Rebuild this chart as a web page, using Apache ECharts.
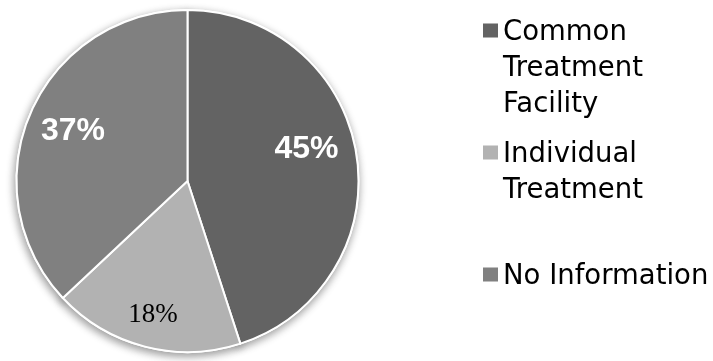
<!DOCTYPE html>
<html>
<head>
<meta charset="utf-8">
<script src="https://cdn.jsdelivr.net/npm/echarts@6/dist/echarts.min.js"></script>
<style>
  html, body { margin: 0; padding: 0; background: #fff; }
  #chart { width: 713px; height: 361px; }
</style>
</head>
<body>
<div id="chart"></div>
<script>
// ---- data ----
const categories = ['Common Treatment Facility', 'Individual Treatment', 'No Information'];
const legendLabels = ['Common\nTreatment\nFacility', 'Individual\nTreatment\n', 'No Information\n\n'];
const values = [45, 18, 37];
const sliceColors = ['#636363', '#b2b2b2', '#808080'];

// ---- layout ----
const PIE_CX = 187.5, PIE_CY = 181, PIE_R = 171;
const labelRadiusRatio = [0.72, 0.81, 0.73];
const labelAngleShift = [-6, 0, 0];
const labelStyles = [
  { color: '#fff', fontFamily: 'Liberation Sans, Arial, sans-serif', fontWeight: 'bold', fontSize: 32 },
  { color: '#000', fontFamily: 'Liberation Serif, Times New Roman, serif', fontWeight: 'normal', fontSize: 27 },
  { color: '#fff', fontFamily: 'Liberation Sans, Arial, sans-serif', fontWeight: 'bold', fontSize: 32 }
];

const total = values.reduce((a, b) => a + b, 0);

const chart = echarts.init(document.getElementById('chart'), null, { renderer: 'canvas' });

const pieData = categories.map((name, i) => ({
  name: name,
  value: values[i],
  itemStyle: { color: sliceColors[i] },
  label: labelStyles[i]
}));

const shadowData = categories.map((name, i) => ({
  name: name,
  value: values[i],
  itemStyle: { color: sliceColors[i] }
}));

chart.setOption({
  animation: false,
  backgroundColor: '#fff',
  legend: {
    orient: 'vertical',
    left: 478,
    top: 9.5,
    height: 420,
    itemWidth: 15,
    itemHeight: 108,
    itemGap: 14,
    icon: 'path://M0,0L0,0M0,9L15,9L15,23L0,23ZM0,108L0,108',
    itemStyle: { borderWidth: 0, shadowBlur: 0, shadowColor: 'rgba(0,0,0,0)' },
    data: categories,
    formatter: function (name) {
      return legendLabels[categories.indexOf(name)];
    },
    textStyle: {
      fontFamily: 'DejaVu Sans',
      fontSize: 27.5,
      lineHeight: 36,
      color: '#000'
    },
    selectedMode: false
  },
  series: [
    {
      type: 'pie',
      z: 1,
      silent: true,
      center: [PIE_CX, PIE_CY],
      radius: PIE_R,
      startAngle: 90,
      clockwise: true,
      label: { show: false },
      labelLine: { show: false },
      itemStyle: {
        borderColor: '#fff',
        borderWidth: 2,
        shadowBlur: 8,
        shadowOffsetX: -1,
        shadowOffsetY: 3,
        shadowColor: 'rgba(0,0,0,0.4)'
      },
      emphasis: { disabled: true },
      data: shadowData
    },
    {
      type: 'pie',
      z: 2,
      silent: true,
      center: [PIE_CX, PIE_CY],
      radius: PIE_R,
      startAngle: 90,
      clockwise: true,
      itemStyle: { borderColor: '#fff', borderWidth: 2 },
      label: {
        show: true,
        position: 'inside',
        formatter: '{c}%'
      },
      labelLine: { show: false },
      labelLayout: function (params) {
        const i = params.dataIndex;
        let start = 0;
        for (let k = 0; k < i; k++) start += values[k];
        const midDeg = (start + values[i] / 2) / total * 360 + labelAngleShift[i];
        const a = midDeg * Math.PI / 180;
        const r = labelRadiusRatio[i] * PIE_R;
        return {
          x: PIE_CX + r * Math.sin(a),
          y: PIE_CY - r * Math.cos(a),
          align: 'center',
          verticalAlign: 'middle'
        };
      },
      emphasis: { disabled: true },
      data: pieData
    }
  ]
});
</script>
</body>
</html>
